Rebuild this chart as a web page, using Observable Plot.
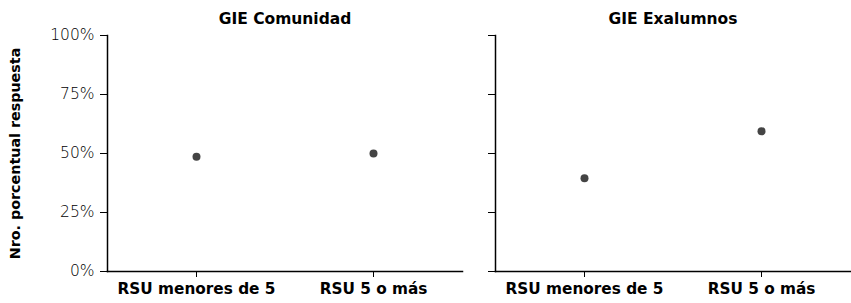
<!DOCTYPE html>
<html>
<head>
<meta charset="utf-8">
<script src="https://cdn.jsdelivr.net/npm/d3@7"></script>
<script src="https://cdn.jsdelivr.net/npm/@observablehq/plot@0.6"></script>
<style>
  body { margin: 0; background: #fff; }
  #chart svg { font-family: "DejaVu Sans", sans-serif; }
  g[aria-label="y-axis label"] text { font-weight: bold; font-size: 14.3px; fill: #000; }
</style>
</head>
<body>
<div id="chart"></div>
<script>
const facets = ["GIE Comunidad", "GIE Exalumnos"];
const categories = ["RSU menores de 5", "RSU 5 o más"];
const comunidadValues = [0.486, 0.50];
const exalumnosValues = [0.395, 0.594];
const yTicks = [0, 0.25, 0.5, 0.75, 1];

const data = [
  ...categories.map((c, i) => ({panel: facets[0], cat: c, value: comunidadValues[i]})),
  ...categories.map((c, i) => ({panel: facets[1], cat: c, value: exalumnosValues[i]}))
];

const chart = Plot.plot({
  width: 851,
  height: 303,
  marginLeft: 107,
  marginRight: 0,
  marginTop: 35,
  marginBottom: 32,
  fx: {domain: facets, paddingInner: 0.085, paddingOuter: 0, label: null},
  x: {domain: categories, padding: 0.5, label: null},
  y: {domain: [0, 1], label: null},
  marks: [
    Plot.axisFx({anchor: "top", label: null, tickSize: 0, fontWeight: "bold", fontSize: 15.5, tickPadding: 12, color: "#000"}),
    Plot.axisY({ticks: yTicks, tickFormat: d3.format(".0%"), tickSize: 7, tickPadding: 6, fontSize: 15.5, fontWeight: 200, color: "#000",
      label: "Nro. porcentual respuesta", labelAnchor: "center", labelArrow: "none", labelOffset: 98}),
    Plot.axisY({ticks: yTicks, tickFormat: () => "", tickSize: 7, facetAnchor: null, label: null, color: "#000"}),
    Plot.axisX({tickSize: 6, tickPadding: 6, fontSize: 15.3, fontWeight: "bold", color: "#000", label: null, facetAnchor: null}),
    Plot.frame({anchor: "left", stroke: "#000", strokeWidth: 1.5}),
    Plot.frame({anchor: "bottom", stroke: "#000", strokeWidth: 1.5}),
    Plot.dot(data, {fx: "panel", x: "cat", y: "value", r: 4, fill: "#444", stroke: null})
  ]
});
document.getElementById("chart").appendChild(chart);
</script>
</body>
</html>
